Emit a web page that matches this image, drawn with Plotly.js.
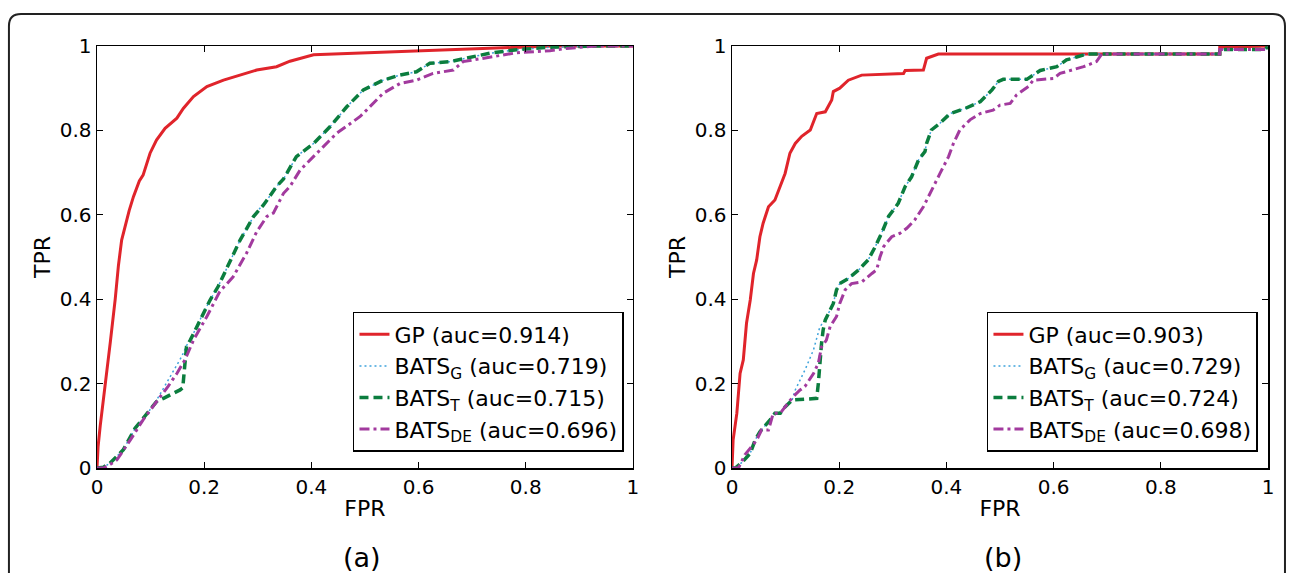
<!DOCTYPE html>
<html>
<head>
<meta charset="utf-8">
<script src="https://cdn.plot.ly/plotly-3.0.1.min.js"></script>
<style>html,body{margin:0;padding:0;background:#fff;}#chart{width:1293px;height:573px;}</style>
</head>
<body>
<div id="chart"></div>
<script>
// ---------- Data ----------
const seriesNames = ['GP', 'BATS<sub>G</sub>', 'BATS<sub>T</sub>', 'BATS<sub>DE</sub>'];
const aucA = ['0.914', '0.719', '0.715', '0.696'];
const aucB = ['0.903', '0.729', '0.724', '0.698'];
const tickVals = [0, 0.2, 0.4, 0.6, 0.8, 1];
const tickText = ['0', '0.2', '0.4', '0.6', '0.8', '1'];

// Panel (a)
const aGP_x = [0,0.002,0.006,0.009,0.015,0.025,0.034,0.040,0.046,0.054,0.060,0.068,0.079,0.086,0.092,0.099,0.111,0.127,0.149,0.161,0.180,0.205,0.236,0.267,0.298,0.335,0.360,0.404,0.503,0.659,0.783,0.850,1];
const aGP_y = [0,0.05,0.10,0.13,0.20,0.30,0.40,0.48,0.54,0.584,0.61,0.643,0.680,0.694,0.720,0.746,0.777,0.805,0.829,0.852,0.880,0.904,0.919,0.931,0.943,0.951,0.964,0.979,0.984,0.991,0.997,1,1];

const aG_x = [0,0.012,0.024,0.049,0.071,0.096,0.111,0.136,0.158,0.167,0.174,0.192,0.211,0.226,0.236,0.254,0.267,0.285,0.292,0.310,0.317,0.335,0.348,0.360,0.372,0.404,0.435,0.466,0.497,0.534,0.565,0.596,0.621,0.659,0.690,0.733,0.783,0.845,0.930,1];
const aG_y = [0,0.002,0.011,0.043,0.094,0.133,0.160,0.217,0.264,0.290,0.303,0.351,0.398,0.430,0.457,0.509,0.540,0.580,0.596,0.625,0.635,0.667,0.685,0.710,0.738,0.769,0.809,0.856,0.896,0.919,0.931,0.939,0.959,0.963,0.971,0.983,0.991,0.997,1,1];

const aT_x = [0,0.012,0.024,0.049,0.071,0.096,0.111,0.124,0.140,0.155,0.160,0.162,0.167,0.174,0.192,0.211,0.226,0.236,0.254,0.267,0.285,0.292,0.310,0.317,0.335,0.348,0.360,0.372,0.404,0.435,0.466,0.497,0.534,0.565,0.596,0.621,0.659,0.690,0.733,0.783,0.845,0.930,1];
const aT_y = [0,0.002,0.011,0.043,0.094,0.133,0.157,0.165,0.175,0.185,0.190,0.225,0.288,0.303,0.351,0.398,0.430,0.457,0.509,0.540,0.580,0.596,0.622,0.635,0.667,0.685,0.710,0.738,0.769,0.809,0.856,0.896,0.919,0.931,0.939,0.959,0.963,0.971,0.983,0.991,0.997,1,1];

const aDE_x = [0,0.012,0.024,0.037,0.062,0.086,0.111,0.133,0.149,0.164,0.180,0.205,0.229,0.254,0.279,0.298,0.317,0.329,0.348,0.360,0.379,0.410,0.447,0.491,0.515,0.534,0.565,0.596,0.627,0.665,0.683,0.721,0.783,0.845,0.876,0.930,1];
const aDE_y = [0,0,0.008,0.019,0.066,0.114,0.157,0.194,0.224,0.256,0.303,0.359,0.418,0.453,0.509,0.560,0.596,0.604,0.651,0.667,0.706,0.746,0.793,0.833,0.864,0.888,0.911,0.919,0.935,0.943,0.963,0.971,0.984,0.989,0.994,1,1];

// Panel (b)
const bGP_x = [0,0.002,0.009,0.015,0.021,0.027,0.034,0.040,0.046,0.052,0.058,0.068,0.080,0.090,0.099,0.108,0.118,0.130,0.146,0.158,0.174,0.186,0.189,0.201,0.217,0.242,0.320,0.323,0.357,0.363,0.385,0.910,0.910,1];
const bGP_y = [0,0.066,0.130,0.224,0.256,0.343,0.398,0.461,0.493,0.548,0.580,0.619,0.635,0.667,0.698,0.746,0.769,0.786,0.801,0.840,0.844,0.872,0.892,0.900,0.919,0.931,0.935,0.942,0.943,0.971,0.981,0.981,0.997,1];

const bG_x = [0,0.006,0.020,0.034,0.043,0.052,0.071,0.080,0.090,0.096,0.112,0.118,0.136,0.152,0.164,0.174,0.189,0.195,0.201,0.217,0.236,0.254,0.267,0.279,0.292,0.310,0.323,0.335,0.348,0.360,0.363,0.372,0.388,0.407,0.435,0.463,0.485,0.497,0.506,0.550,0.562,0.575,0.606,0.624,0.643,0.662,0.910,0.910,0.995,1];
const bG_y = [0,0,0.015,0.035,0.066,0.086,0.114,0.130,0.130,0.141,0.161,0.185,0.232,0.280,0.335,0.351,0.390,0.422,0.437,0.449,0.469,0.493,0.524,0.556,0.596,0.627,0.667,0.690,0.730,0.750,0.769,0.801,0.817,0.840,0.852,0.868,0.896,0.916,0.921,0.921,0.931,0.942,0.951,0.967,0.974,0.981,0.981,0.992,0.992,1];

const bT_x = [0,0.006,0.020,0.034,0.043,0.052,0.071,0.080,0.090,0.096,0.112,0.158,0.161,0.164,0.167,0.170,0.174,0.189,0.195,0.201,0.217,0.236,0.254,0.267,0.279,0.292,0.310,0.323,0.335,0.348,0.360,0.363,0.372,0.388,0.407,0.435,0.463,0.485,0.497,0.506,0.550,0.562,0.575,0.606,0.624,0.643,0.662,0.910,0.910,0.995,1];
const bT_y = [0,0,0.015,0.035,0.066,0.086,0.114,0.130,0.130,0.141,0.161,0.165,0.200,0.256,0.295,0.327,0.351,0.390,0.422,0.437,0.449,0.469,0.493,0.524,0.556,0.596,0.627,0.667,0.690,0.730,0.750,0.769,0.801,0.817,0.840,0.852,0.868,0.896,0.916,0.921,0.921,0.931,0.942,0.951,0.967,0.974,0.981,0.981,0.992,0.992,1];

const bDE_x = [0,0.012,0.024,0.046,0.055,0.068,0.077,0.090,0.099,0.114,0.127,0.136,0.152,0.161,0.167,0.176,0.183,0.195,0.201,0.211,0.223,0.242,0.261,0.270,0.276,0.283,0.298,0.313,0.326,0.341,0.357,0.369,0.388,0.404,0.413,0.425,0.444,0.463,0.487,0.500,0.519,0.531,0.553,0.562,0.600,0.612,0.624,0.656,0.680,0.690,0.910,0.910,0.995,1];
const bDE_y = [0,0,0.031,0.066,0.090,0.090,0.130,0.130,0.145,0.169,0.185,0.193,0.224,0.248,0.287,0.303,0.335,0.359,0.390,0.422,0.437,0.441,0.461,0.470,0.500,0.525,0.548,0.556,0.568,0.588,0.619,0.651,0.698,0.738,0.769,0.801,0.825,0.840,0.848,0.860,0.864,0.884,0.904,0.919,0.923,0.935,0.939,0.951,0.963,0.981,0.981,0.992,0.992,1];

// ---------- Styles ----------
const FONT = 'DejaVu Sans, Liberation Sans, Arial, sans-serif';
const styles = [
  {color: '#e0242b', width: 3, dash: 'solid'},
  {color: '#3ea3dc', width: 1.5, dash: '2px,3px'},
  {color: '#0b7d3e', width: 3.5, dash: '9px,5px'},
  {color: '#a23a9e', width: 3, dash: '10px,4px,3px,4px'}
];

function panel(xs, ys, aucs, xa, ya, legendId) {
  return xs.map((x, i) => ({
    type: 'scatter', mode: 'lines',
    x: x, y: ys[i],
    xaxis: xa, yaxis: ya,
    legend: legendId,
    name: seriesNames[i] + ' (auc=' + aucs[i] + ')',
    line: {color: styles[i].color, width: styles[i].width, dash: styles[i].dash},
    hoverinfo: 'skip'
  }));
}

const traces = [].concat(
  panel([aGP_x, aG_x, aT_x, aDE_x], [aGP_y, aG_y, aT_y, aDE_y], aucA, 'x', 'y', 'legend'),
  panel([bGP_x, bG_x, bT_x, bDE_x], [bGP_y, bG_y, bT_y, bDE_y], aucB, 'x2', 'y2', 'legend2')
);

function axis(extra) {
  return Object.assign({
    range: [0, 1], tickvals: tickVals, ticktext: tickText,
    showgrid: false, zeroline: false,
    showline: true, mirror: 'ticks', linecolor: '#000', linewidth: 1.5,
    ticks: 'inside', ticklen: 6, tickcolor: '#000', tickwidth: 1,
    tickfont: {family: FONT, size: 20, color: '#000'},
    fixedrange: true
  }, extra);
}

const legendBase = {
  bgcolor: '#fff', bordercolor: '#000', borderwidth: 1.5,
  font: {family: FONT, size: 22, color: '#000'},
  xanchor: 'left', yanchor: 'top', xref: 'paper', yref: 'paper',
  itemwidth: 30, tracegroupgap: 0
};

// frame (rounded border around the whole figure) in paper coordinates
const fx0 = -0.0752, fx1 = 1.0145, fyt = 1.0758, fyb = -0.40, rx = 0.0103, ry = 0.0284;
const framePath = `M ${fx0},${fyb} L ${fx0},${fyt - ry} Q ${fx0},${fyt} ${fx0 + rx},${fyt} L ${fx1 - rx},${fyt} Q ${fx1},${fyt} ${fx1},${fyt - ry} L ${fx1},${fyb}`;

const layout = {
  width: 1293, height: 573,
  margin: {l: 97, r: 25, t: 46, b: 105},
  paper_bgcolor: '#fff', plot_bgcolor: '#fff',
  font: {family: FONT, color: '#000'},
  xaxis: axis({domain: [0, 0.4577], anchor: 'y', title: {text: 'FPR', font: {family: FONT, size: 22}, standoff: 3}}),
  yaxis: axis({domain: [0, 1], anchor: 'x', title: {text: 'TPR', font: {family: FONT, size: 22}, standoff: 3}}),
  xaxis2: axis({domain: [0.5423, 1], anchor: 'y2', title: {text: 'FPR', font: {family: FONT, size: 22}, standoff: 3}}),
  yaxis2: axis({domain: [0, 1], anchor: 'x2', title: {text: 'TPR', font: {family: FONT, size: 22}, standoff: 3}}),
  legend: Object.assign({x: 0.2186, y: 0.3697}, legendBase),
  legend2: Object.assign({x: 0.760, y: 0.3697}, legendBase),
  showlegend: true,
  shapes: [{type: 'path', xref: 'paper', yref: 'paper', path: framePath, line: {color: '#222', width: 2}, layer: 'above'}],
  annotations: [
    {text: '(a)', xref: 'paper', yref: 'paper', x: 0.226, y: -0.213, showarrow: false, xanchor: 'center', yanchor: 'middle', font: {family: FONT, size: 27, color: '#000'}},
    {text: '(b)', xref: 'paper', yref: 'paper', x: 0.774, y: -0.213, showarrow: false, xanchor: 'center', yanchor: 'middle', font: {family: FONT, size: 27, color: '#000'}}
  ]
};

Plotly.newPlot('chart', traces, layout, {displayModeBar: false, staticPlot: true});
</script>
</body>
</html>
